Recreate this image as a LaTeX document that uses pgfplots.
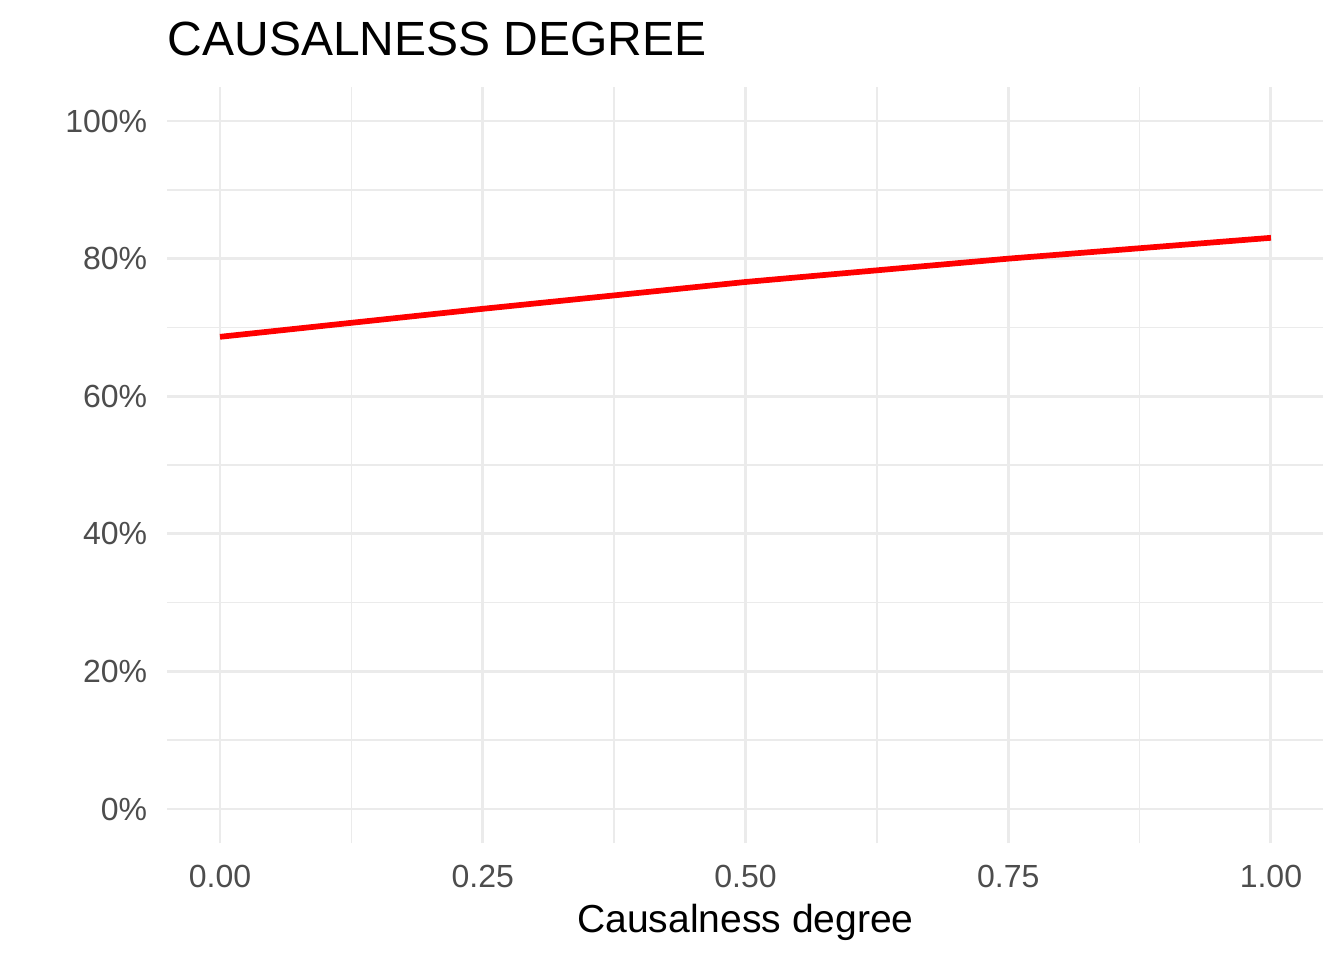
\documentclass[border=0pt]{standalone}
\usepackage{fontspec}
\setmainfont{Liberation Sans}
\usepackage{pgfplots}
\pgfplotsset{compat=1.18}
\definecolor{gridc}{HTML}{EBEBEB}
\definecolor{tickc}{HTML}{4D4D4D}
\begin{document}
\begin{tikzpicture}
\path[use as bounding box] (0,0) rectangle (1008pt,720pt);
\begin{axis}[
  at={(125.6pt,87.45pt)}, anchor=south west,
  scale only axis, width=867pt, height=567.6pt,
  xmin=-0.05, xmax=1.05, ymin=-0.05, ymax=1.05,
  axis line style={draw=none}, tick style={draw=none},
  grid=both, minor tick num=1,
  major grid style={color=gridc, line width=2.2pt},
  minor grid style={color=gridc, line width=1.1pt},
  xtick={0,0.25,0.5,0.75,1},
  xticklabels={0.00,0.25,0.50,0.75,1.00},
  ytick={0,0.2,0.4,0.6,0.8,1},
  yticklabels={0\%,20\%,40\%,60\%,80\%,100\%},
  xticklabel style={anchor=base, inner sep=0pt, yshift=-33.2pt, text=tickc, font=\fontsize{24}{28}\selectfont},
  yticklabel style={anchor=east, inner sep=0pt, xshift=-15pt, text=tickc, font=\fontsize{24}{28}\selectfont},
  xlabel={Causalness degree},
  xlabel style={at={(axis description cs:0.5,0)}, anchor=base, inner sep=0pt, yshift=-66.8pt, font=\fontsize{29.3}{34}\selectfont},
]
\addplot[color=red, line width=4.3pt, line join=round] coordinates {(0,0.6863) (0.25,0.7270) (0.5,0.7660) (0.75,0.7999) (1,0.8302)};
\end{axis}
\node[anchor=base west, inner sep=0pt, font=\fontsize{36}{42}\selectfont] at (125.6pt,678pt) {CAUSALNESS DEGREE};
\end{tikzpicture}
\end{document}
